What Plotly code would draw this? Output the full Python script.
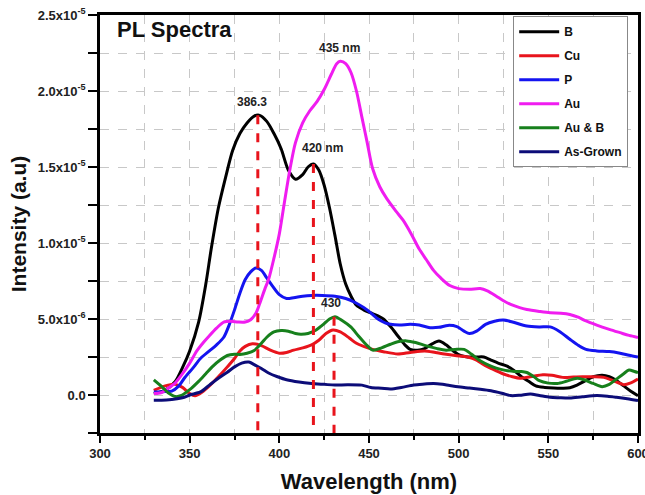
import plotly.graph_objects as go

SCALE = 1e-6  # values below are in units of 1e-6

b_x = [330,336,342,346,350,355,359,362,366,370,374,378,382,386,389,393,397,401,405,409,413,416,419,422,425,428,431,434,437,440,443,447,451,455,458,462,466,470,473,477,481,485,489,493,497,501,505,510,514,518,522,527,531,535,539,543,548,553,558,562,566,570,575,580,584,588,592,596,600]
b_y = [0.1,0.3,0.9,1.8,2.9,4.8,7.3,9.6,12.3,14.3,16.1,17.2,17.9,18.35,18.4,18.0,17.2,16.2,14.8,14.2,14.5,15.0,15.2,14.8,13.8,12.3,10.5,8.6,7.3,6.5,5.9,5.6,5.4,5.2,5.0,4.5,3.9,3.3,3.0,2.95,3.05,3.35,3.55,3.3,2.9,2.6,2.5,2.5,2.5,2.3,2.1,1.9,1.6,1.2,0.9,0.6,0.5,0.46,0.45,0.48,0.65,0.9,1.2,1.3,1.2,0.95,0.6,0.25,-0.05]

cu_x = [330,334,338,342,346,350,353,357,361,366,371,375,378,381,385,390,395,400,404,408,413,418,422,426,430,434,439,443,447,452,458,466,473,481,487,492,498,505,510,514,519,525,530,534,540,547,552,558,564,569,575,581,586,592,596,600]
cu_y = [0.3,0.5,0.65,0.7,0.5,0.1,-0.05,0.2,0.6,1.2,1.85,2.4,2.9,3.2,3.37,3.25,2.95,2.75,2.8,2.95,3.1,3.3,3.6,4.05,4.28,4.15,3.75,3.4,3.2,3.0,2.85,2.7,2.8,2.9,2.8,2.7,2.6,2.5,2.3,2.0,1.7,1.38,1.2,1.1,1.2,1.33,1.3,1.16,1.18,1.2,1.2,1.16,0.95,0.68,0.8,1.05]

p_x = [330,335,340,344,347,352,356,361,365,369,372,375,378,381,384,387,390,393,396,400,404,408,413,418,424,431,437,442,447,451,455,459,462,467,473,478,484,489,494,499,503,506,510,515,520,525,530,538,545,551,556,562,567,571,577,584,590,595,600]
p_y = [0.2,0.22,0.26,0.6,1.1,1.8,2.4,2.9,3.3,3.8,4.6,5.6,6.7,7.6,8.1,8.35,8.2,7.7,7.2,6.6,6.35,6.4,6.5,6.55,6.55,6.5,6.35,6.1,5.75,5.4,5.0,4.75,4.65,4.6,4.65,4.6,4.43,4.45,4.58,4.5,4.2,4.04,4.2,4.65,4.85,4.93,4.8,4.54,4.48,4.48,4.2,3.67,3.25,3.0,2.9,2.86,2.75,2.62,2.5]

au_x = [330,334,338,342,346,350,354,358,361,365,369,373,377,381,384,387,389,392,394,397,400,403,406,409,413,417,421,425,429,432,434,437,440,443,446,449,452,456,460,465,469,474,478,482,486,490,495,500,506,512,516,521,525,529,534,538,545,551,557,562,567,571,577,584,590,595,600]
au_y = [0.1,0.15,0.44,0.8,1.4,2.1,2.9,3.5,3.9,4.4,4.8,4.85,4.8,4.8,4.95,5.4,6.0,7.0,7.6,9.0,10.6,12.8,14.9,16.6,17.9,18.7,19.3,20.1,21.1,21.8,21.95,21.8,21.2,20.0,18.3,16.6,14.9,13.7,12.9,12.1,11.5,10.5,9.6,8.9,8.2,7.7,7.2,7.0,6.95,7.0,6.85,6.5,6.2,5.96,5.75,5.63,5.5,5.41,5.38,5.3,5.1,4.87,4.6,4.32,4.1,3.92,3.78]

aub_x = [330,334,338,342,345,350,355,359,363,367,371,375,378,382,386,390,393,397,401,405,409,412,416,420,424,428,431,435,440,444,448,452,457,462,466,471,476,482,488,493,498,503,507,512,517,521,526,531,535,538,542,545,550,555,560,566,570,575,580,584,588,592,595,598,600]
aub_y = [1.0,0.6,0.15,-0.1,-0.05,0.35,0.9,1.4,1.9,2.3,2.6,2.68,2.67,2.75,2.93,3.4,3.8,4.15,4.24,4.2,4.05,4.0,4.05,4.24,4.6,5.0,5.15,4.9,4.46,3.9,3.37,2.95,3.1,3.34,3.5,3.56,3.45,3.23,3.05,2.95,3.0,3.0,2.7,2.25,1.95,1.77,1.62,1.55,1.55,1.48,1.2,0.94,0.78,0.76,0.9,1.1,1.0,0.76,0.55,0.7,1.05,1.4,1.64,1.55,1.48]

ag_x = [330,337,343,347,350,356,361,366,371,375,379,383,386,390,394,399,404,411,418,425,431,438,446,451,457,462,468,475,481,486,491,495,501,506,512,518,524,529,534,540,545,551,556,562,569,577,583,588,594,600]
ag_y = [-0.35,-0.33,-0.25,-0.15,0.0,0.2,0.65,1.1,1.5,1.85,2.1,2.17,2.0,1.74,1.45,1.2,1.0,0.85,0.76,0.7,0.65,0.68,0.65,0.5,0.45,0.4,0.5,0.66,0.72,0.76,0.7,0.62,0.52,0.46,0.38,0.28,0.12,-0.04,-0.02,0.07,-0.03,-0.15,-0.18,-0.2,-0.12,-0.04,-0.08,-0.15,-0.25,-0.37]

series_names = ["B", "Cu", "P", "Au", "Au & B", "As-Grown"]
series_colors = ["#000000", "#e8141c", "#1414f0", "#f01cf0", "#17801c", "#0c0c78"]
series_x = [b_x, cu_x, p_x, au_x, aub_x, ag_x]
series_y = [b_y, cu_y, p_y, au_y, aub_y, ag_y]

peak_wl = [388, 419, 430.5]
peak_top = [18.4, 15.2, 5.15]
y_bottom = -2.5

label_text = ["386.3", "435 nm", "420 nm", "430"]
label_x = [384.7, 433.5, 424.0, 429.0]
label_y = [19.25, 22.85, 16.25, 6.05]

y_tickvals = [0, 5, 10, 15, 20, 25]
y_ticktext = ["0.0", "5.0x10<sup>-6</sup>", "1.0x10<sup>-5</sup>", "1.5x10<sup>-5</sup>",
              "2.0x10<sup>-5</sup>", "2.5x10<sup>-5</sup>"]
x_tickvals = [300, 350, 400, 450, 500, 550, 600]

fig = go.Figure()

for i in range(len(series_names)):
    fig.add_trace(go.Scatter(
        x=series_x[i], y=[v * SCALE for v in series_y[i]],
        mode="lines", name=series_names[i], legendgroup=series_names[i],
        line=dict(color=series_colors[i], width=3, shape="spline", smoothing=0.8),
    ))

for wl, top in zip(peak_wl, peak_top):
    fig.add_trace(go.Scatter(
        x=[wl, wl], y=[top * SCALE, y_bottom * SCALE], mode="lines",
        line=dict(color="#e8141c", width=3, dash="dash"), showlegend=False,
        hoverinfo="skip",
    ))

for t, lx, ly in zip(label_text, label_x, label_y):
    fig.add_annotation(x=lx, y=ly * SCALE, text=t, showarrow=False,
                       font=dict(family="Liberation Sans", size=12, color="#222", weight="bold"))

fig.add_annotation(xref="paper", yref="paper", x=0.139, y=0.966, xanchor="center", yanchor="middle",
                   text="PL Spectra", showarrow=False,
                   font=dict(family="Liberation Sans", size=22, color="#111", weight="bold"))

grid = dict(showgrid=True, gridcolor="#c8c8c8", griddash="dash", gridwidth=1)

fig.update_xaxes(
    range=[300, 600], tickvals=x_tickvals, ticks="outside", ticklen=7, tickwidth=2,
    tickcolor="black", showline=True, linewidth=2.5, linecolor="black", mirror=True,
    ticklabeloverflow="allow", automargin=False,
    tickfont=dict(family="Liberation Sans", size=13, color="#222", weight="bold"),
    title=dict(text="Wavelength (nm)", standoff=14,
               font=dict(family="Liberation Sans", size=22, color="#111", weight="bold")),
    zeroline=False,
    minor=dict(dtick=25, tick0=300, ticks="outside", ticklen=4, tickwidth=2, tickcolor="black",
               showgrid=True, gridcolor="#c8c8c8", griddash="dash"),
    **grid,
)
fig.update_yaxes(
    range=[-2.5e-6, 2.5e-5], tickvals=[v * SCALE for v in y_tickvals], ticktext=y_ticktext,
    ticks="outside", ticklen=9, tickwidth=2, tickcolor="black",
    showline=True, linewidth=2.5, linecolor="black", mirror=True, automargin=False,
    tickfont=dict(family="Liberation Sans", size=13, color="#222", weight="bold"),
    title=dict(text="Intensity (a.u)", standoff=6,
               font=dict(family="Liberation Sans", size=21, color="#111", weight="bold")),
    zeroline=False,
    minor=dict(dtick=2.5e-6, tick0=0, ticks="outside", ticklen=9, tickwidth=2, tickcolor="black",
               showgrid=True, gridcolor="#c8c8c8", griddash="dash"),
    **grid,
)

fig.update_layout(
    width=645, height=495,
    margin=dict(l=100, r=7, t=15, b=62),
    plot_bgcolor="white", paper_bgcolor="white",
    showlegend=True,
    legend=dict(x=0.768, y=0.997, xanchor="left", yanchor="top",
                bgcolor="white", bordercolor="#888", borderwidth=1,
                font=dict(family="Liberation Sans", size=12, color="#111", weight="bold"),
                tracegroupgap=5, traceorder="grouped", itemwidth=40),
)

fig.write_html("out.html", config={"displayModeBar": False},
               post_script="document.body.style.margin='0';")
